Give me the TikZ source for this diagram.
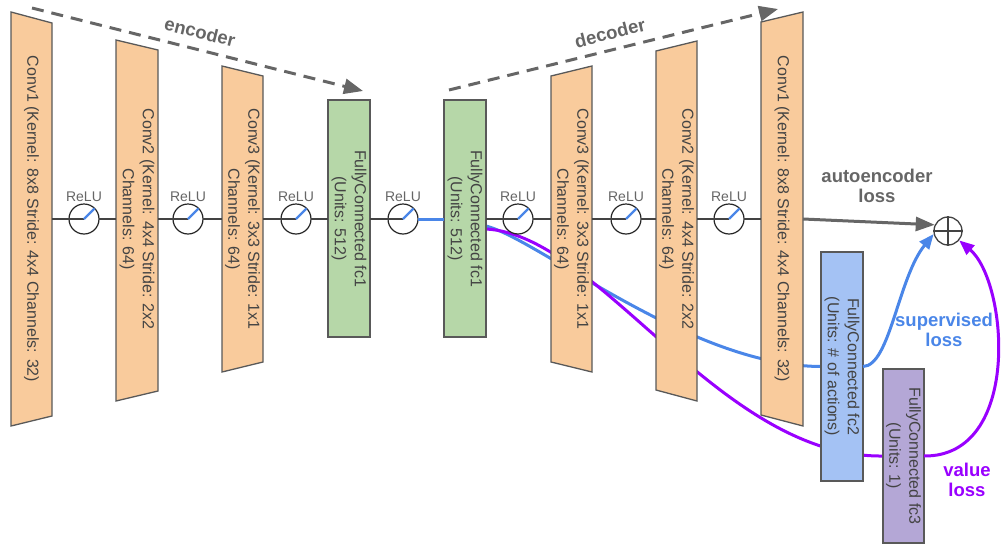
\documentclass[tikz,border=0pt]{standalone}
\usepackage{fontspec}
\setmainfont{Liberation Sans}
\usetikzlibrary{arrows.meta,calc}
\definecolor{orangef}{HTML}{F9CB9C}
\definecolor{greenf}{HTML}{B6D7A8}
\definecolor{bluef}{HTML}{A4C2F4}
\definecolor{purplef}{HTML}{B4A7D6}
\definecolor{strokec}{HTML}{595959}
\definecolor{textc}{HTML}{434343}
\definecolor{grayl}{HTML}{666666}
\definecolor{bluel}{HTML}{4A86E8}
\definecolor{purplel}{HTML}{9900FF}
\pgfdeclarelayer{bg}
\pgfsetlayers{bg,main}
\tikzset{
  hold/.style 2 args={rectangle, inner sep=0pt, outer sep=0pt, minimum width=#1, minimum height=#2},
  shapeline/.style={draw=strokec, line width=1.3pt, line join=miter},
  rectbox/.style={rectangle, draw=strokec, line width=1.3pt, inner sep=0pt, outer sep=0pt},
  boxtxt/.style={rotate=-90, font=\fontsize{16}{20}\selectfont, text=textc, align=center, inner sep=0pt},
  relu/.style={circle, draw=black!85, fill=white, line width=1.2pt, minimum size=30pt, inner sep=0pt, outer sep=0pt},
  relulbl/.style={font=\fontsize{14}{16}\selectfont, text=grayl, inner sep=0pt, anchor=base},
  encline/.style={draw=textc, line width=1.3pt},
  decline/.style={draw=textc, line width=2.8pt},
  inner/.style={draw=textc, line width=1.1pt},
  diag/.style={draw=bluel, line width=2.4pt},
  dasharrow/.style={draw=grayl, line width=3pt, dash pattern=on 12pt off 8pt, -{Triangle[length=19pt,width=15pt]}},
  aearrow/.style={draw=grayl, line width=3pt, -{Triangle[length=19pt,width=14pt]}},
  bluecurve/.style={draw=bluel, line width=3pt},
  purplecurve/.style={draw=purplel, line width=3pt},
  bigl/.style={font=\bfseries\fontsize{18.5}{20}\selectfont, align=center, inner sep=0pt},
}
\begin{document}
\begin{tikzpicture}[x=1pt,y=-1pt]
\useasboundingbox (0,0) rectangle (1002,544);

% ---- box holders ----
\node[hold={41pt}{414pt}] (ec1) at (31.5,219) {};
\node[hold={42pt}{361pt}] (ec2) at (137,219) {};
\node[hold={41pt}{306pt}] (ec3) at (242.5,219) {};
\node[hold={41pt}{306pt}] (dc3) at (571.5,219) {};
\node[hold={41pt}{360pt}] (dc2) at (676.5,219) {};
\node[hold={42pt}{414pt}] (dc1) at (782,219) {};

% ---- trapezoids ----
\draw[shapeline, fill=orangef] (11,12) -- (52,23) -- (52,416) -- (11,426) -- cycle;
\draw[shapeline, fill=orangef] (116,40) -- (158,50) -- (158,391) -- (116,401) -- cycle;
\draw[shapeline, fill=orangef] (222,66) -- (263,76) -- (263,362) -- (222,372) -- cycle;
\draw[shapeline, fill=orangef] (551,76) -- (592,66) -- (592,372) -- (551,362) -- cycle;
\draw[shapeline, fill=orangef] (656,51) -- (697,41) -- (697,401) -- (656,390) -- cycle;
\draw[shapeline, fill=orangef] (761,22) -- (803,12) -- (803,426) -- (761,415) -- cycle;

% ---- fully connected boxes ----
\node[rectbox, fill=greenf, minimum width=42pt, minimum height=237pt] (efc) at (349,218.5) {};
\node[rectbox, fill=greenf, minimum width=42pt, minimum height=237pt] (dfc) at (465,218.5) {};
\node[rectbox, fill=bluef, minimum width=42pt, minimum height=229pt] (fc2) at (842,366.5) {};
\node[rectbox, fill=purplef, minimum width=41pt, minimum height=174pt] (fc3) at (903.5,456) {};

% ---- texts ----
\node[boxtxt] (ec1t) at (31.5,219) {Conv1 (Kernel: 8x8 Stride: 4x4 Channels: 32)};
\node[boxtxt] (ec2t) at (137,219) {Conv2 (Kernel: 4x4 Stride: 2x2\\Channels: 64)};
\node[boxtxt] (ec3t) at (242.5,219) {Conv3 (Kernel: 3x3 Stride: 1x1\\Channels: 64)};
\node[boxtxt] (efct) at (efc) {FullyConnected fc1\\(Units: 512)};
\node[boxtxt] (dfct) at (dfc) {FullyConnected fc1\\(Units: 512)};
\node[boxtxt] (dc3t) at (571.5,219) {Conv3 (Kernel: 3x3 Stride: 1x1\\Channels: 64)};
\node[boxtxt] (dc2t) at (676.5,219) {Conv2 (Kernel: 4x4 Stride: 2x2\\Channels: 64)};
\node[boxtxt] (dc1t) at (782,219) {Conv1 (Kernel: 8x8 Stride: 4x4 Channels: 32)};
\node[boxtxt] (fc2t) at (fc2) {FullyConnected fc2\\(Units: \# of actions)};
\node[boxtxt] (fc3t) at (fc3) {FullyConnected fc3\\(Units: 1)};

% ---- relus ----
\foreach \n/\x in {r1/84, r2/188, r3/296, r4/403, r5/518, r6/626, r7/729} {
  \node[relu] (\n) at (\x,219) {};
  \draw[inner] (\n.west) -- (\n.center);
  \draw[diag] (\n.center) -- (\n.45);
  \node[relulbl] (\n l) at ($(\n.north)+(0,-3)$) {ReLU};
}

% ---- oplus ----
\node[circle, draw=textc, fill=white, line width=1.3pt, minimum size=28pt, inner sep=0pt] (op) at (948,231) {};
\draw[draw=textc, line width=1.3pt] (op.north) -- (op.south) (op.west) -- (op.east);

% ---- encoder chain ----
\draw[encline] (ec1.east) -- (r1.west);
\draw[encline] (r1.east) -- (ec2.west);
\draw[encline] (ec2.east) -- (r2.west);
\draw[encline] (r2.east) -- (ec3.west);
\draw[encline] (ec3.east) -- (r3.west);
\draw[encline] (r3.east) -- (efc.west |- r3.east);
\draw[encline] (efc.east |- r4.west) -- (r4.west);
\draw[bluecurve] (r4.east) -- (dfc.west |- r4.east);

% ---- decoder chain ----
\draw[decline] (dfc.east |- r5.west) -- (r5.west);
\draw[decline] (r5.east) -- (dc3.west);
\draw[decline] (dc3.east) -- (r6.west);
\draw[decline] (r6.east) -- (dc2.west);
\draw[decline] (dc2.east) -- (r7.west);
\draw[decline] (r7.east) -- (dc1.west);

% ---- autoencoder loss ----
\draw[aearrow] (dc1.east) -- (op.155);
\node[bigl, text=grayl] (ael) at (877,186) {autoencoder\\loss};

% ---- curves behind boxes ----
\begin{pgfonlayer}{bg}
\draw[bluecurve] ($(dfc.east)+(0,7.5)$) .. controls (540,240) and (690,366) .. (fc2.west);
\draw[purplecurve] ($(dfc.east)+(0,10.5)$) .. controls (600,235) and (720,458) .. (fc3.west);
\end{pgfonlayer}

\draw[bluecurve, -{Triangle[length=15pt,width=12pt]}] (fc2.east) .. controls (890,366) and (898,278) .. (op.192);
\draw[purplecurve, -{Triangle[length=15pt,width=12pt]}] (fc3.east) .. controls (1022,457) and (1008,282) .. (op.-40);
\node[bigl, text=bluel] (supl) at (944,330) {supervised\\loss};
\node[bigl, text=purplel] (vall) at (967,480) {value\\loss};

% ---- encoder / decoder dashed arrows ----
\coordinate (encS) at (32,8);
\coordinate (encE) at (363,91);
\coordinate (decS) at (449,90);
\coordinate (decE) at (778,9);
\draw[dasharrow] (encS) -- (encE);
\draw[dasharrow] (decS) -- (decE);
\node[bigl, text=grayl, rotate=-14] (encl) at (200,32) {encoder};
\node[bigl, text=grayl, rotate=14] (decl) at (610,33) {decoder};
\end{tikzpicture}
\end{document}
